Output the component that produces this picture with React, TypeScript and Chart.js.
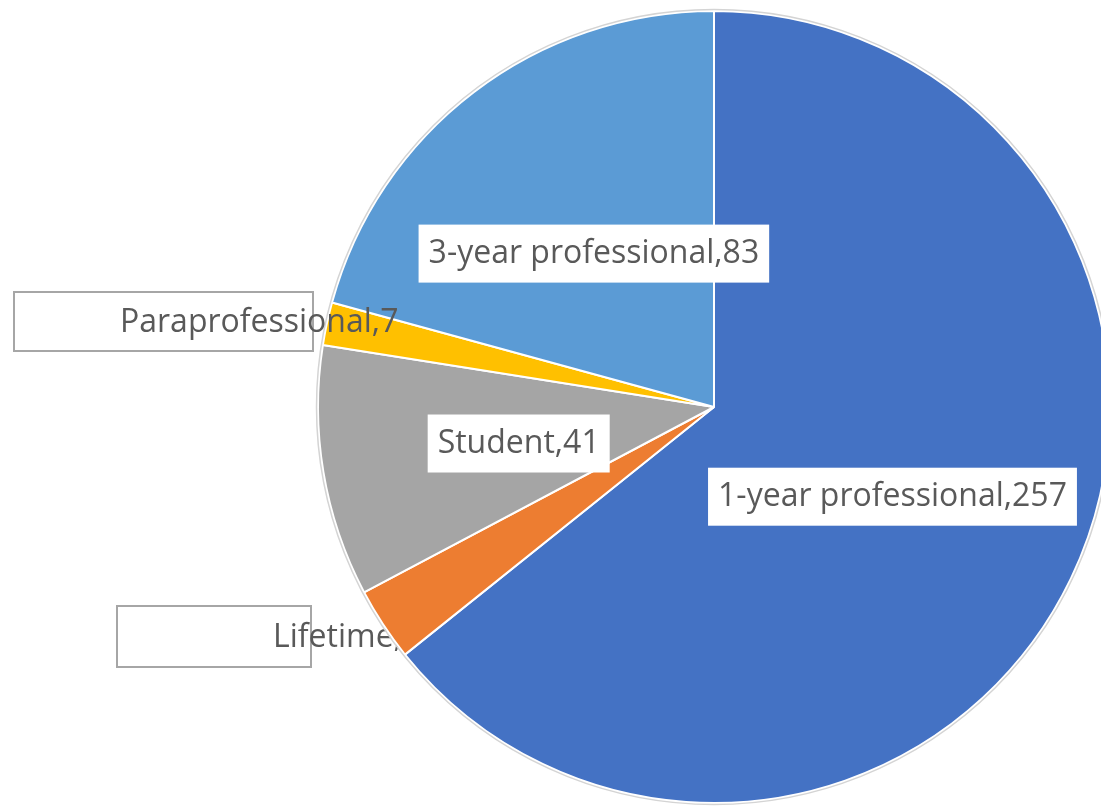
import React, { useEffect, useRef } from "react";
import { Chart, registerables } from "chart.js";

Chart.register(...registerables);

const categories = ["1-year professional", "Lifetime", "Student", "Paraprofessional", "3-year professional"];
const values = [257, 12, 41, 7, 83];
const colors = ["#4472C4", "#ED7D31", "#A5A5A5", "#FFC000", "#5B9BD5"];

// label placement: inside labels at half radius, two moved outside into boxes
const labelLayout = [
  { inside: true },
  { inside: false, behind: true, box: [117, 606, 194, 61], textX: 273, textY: 638 },
  { inside: true },
  { inside: false, behind: false, box: [14, 292, 299, 59], textX: 120, textY: 323 },
  { inside: true },
];

const FONT = '32px "Open Sans"';
const TEXT_COLOR = "#595959";

function drawOutside(ctx: CanvasRenderingContext2D, text: string, lay: any) {
  const [bx, by, bw, bh] = lay.box;
  ctx.fillStyle = "#ffffff";
  ctx.fillRect(bx, by, bw, bh);
  ctx.strokeStyle = "#a6a6a6";
  ctx.lineWidth = 2;
  ctx.strokeRect(bx, by, bw, bh);
  ctx.fillStyle = TEXT_COLOR;
  ctx.textAlign = "left";
  ctx.fillText(text, lay.textX, lay.textY);
}

const labelPlugin = {
  id: "pieLabels",
  beforeDatasetsDraw(chart: any) {
    const ctx = chart.ctx as CanvasRenderingContext2D;
    ctx.save();
    ctx.font = FONT;
    ctx.textBaseline = "middle";
    labelLayout.forEach((lay: any, i: number) => {
      if (!lay.inside && lay.behind) drawOutside(ctx, `${categories[i]},${values[i]}`, lay);
    });
    ctx.restore();
  },
  afterDatasetsDraw(chart: any) {
    const ctx = chart.ctx as CanvasRenderingContext2D;
    const meta = chart.getDatasetMeta(0);
    ctx.save();
    // thin light outline around the pie
    const p0 = meta.data[0].getProps(["x", "y", "outerRadius"], true);
    ctx.beginPath();
    ctx.arc(p0.x, p0.y, p0.outerRadius + 1.5, 0, Math.PI * 2);
    ctx.strokeStyle = "#d4d4d4";
    ctx.lineWidth = 1.5;
    ctx.stroke();

    ctx.font = FONT;
    ctx.textBaseline = "middle";
    meta.data.forEach((arc: any, i: number) => {
      const text = `${categories[i]},${values[i]}`;
      const lay: any = labelLayout[i];
      const w = ctx.measureText(text).width;
      if (lay.inside) {
        const p = arc.getProps(["startAngle", "endAngle", "outerRadius", "x", "y"], true);
        const mid = (p.startAngle + p.endAngle) / 2;
        const cx = p.x + Math.cos(mid) * p.outerRadius * 0.5;
        const cy = p.y + Math.sin(mid) * p.outerRadius * 0.5 + 4;
        const bh = 58;
        ctx.fillStyle = "#ffffff";
        ctx.fillRect(cx - w / 2 - 10, cy - bh / 2, w + 20, bh);
        ctx.fillStyle = TEXT_COLOR;
        ctx.textAlign = "center";
        ctx.fillText(text, cx, cy);
      } else if (!lay.behind) {
        drawOutside(ctx, text, lay);
      }
    });
    ctx.restore();
  },
};

export default function App() {
  const ref = useRef<HTMLCanvasElement>(null);
  useEffect(() => {
    if (!ref.current) return;
    const chart = new Chart(ref.current, {
      type: "pie",
      data: {
        labels: categories,
        datasets: [
          {
            data: values,
            backgroundColor: colors,
            borderColor: "#ffffff",
            borderWidth: 2,
          },
        ],
      },
      options: {
        responsive: false,
        animation: false,
        layout: { padding: { left: 317, right: 9, top: 10, bottom: 6 } },
        plugins: { legend: { display: false }, tooltip: { enabled: false } },
      },
      plugins: [labelPlugin],
    });
    return () => chart.destroy();
  }, []);
  return (
    <div style={{ position: "absolute", left: 0, top: 0, width: 1101, height: 810, overflow: "hidden", background: "#fff" }}>
      <canvas ref={ref} width={1120} height={810} style={{ width: 1120, height: 810 }} />
    </div>
  );
}
